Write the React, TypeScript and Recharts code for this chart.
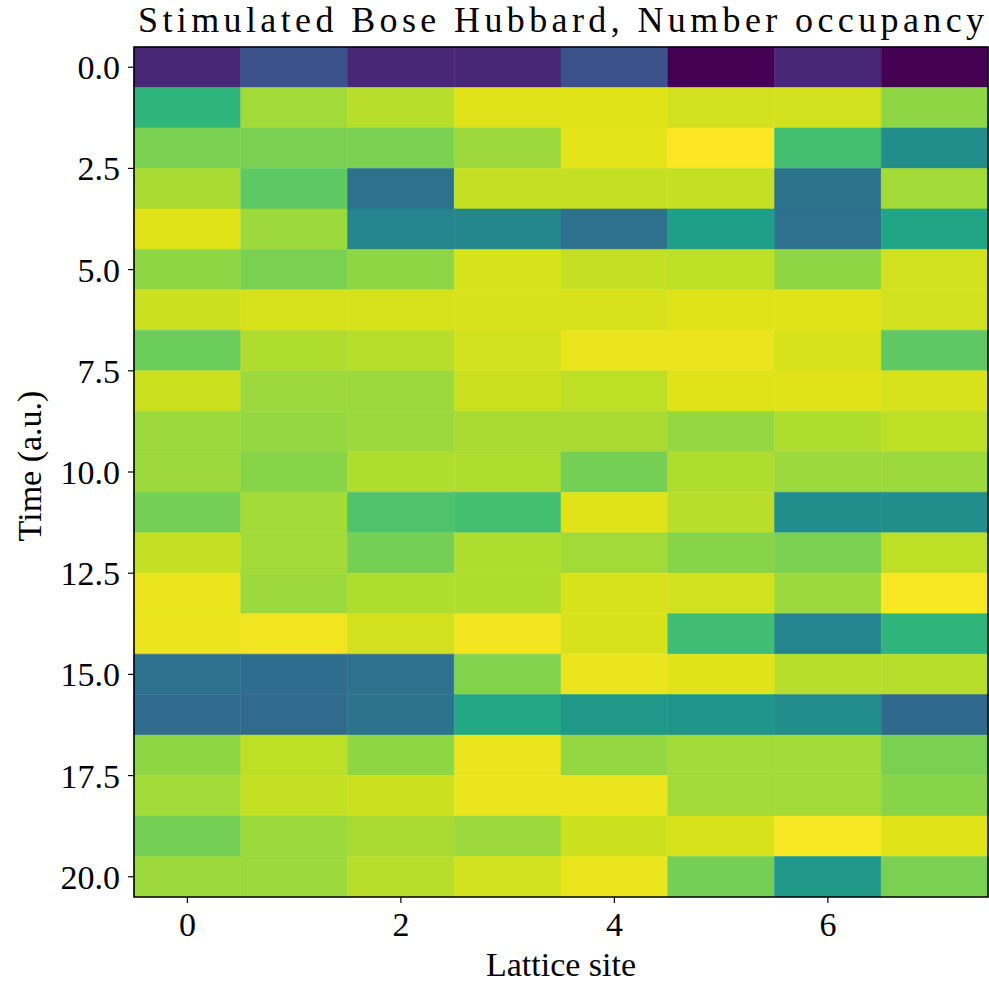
import React from 'react';
import { ScatterChart, Scatter, XAxis, YAxis, ReferenceArea } from 'recharts';

// Lattice sites (columns) and time steps (rows)
const sites = [0, 1, 2, 3, 4, 5, 6, 7];
const times = [0, 1, 2, 3, 4, 5, 6, 7, 8, 9, 10, 11, 12, 13, 14, 15, 16, 17, 18, 19, 20];
const siteTicks = [0, 2, 4, 6];
const timeTicks = [0, 2.5, 5, 7.5, 10, 12.5, 15, 17.5, 20];

// Normalised number occupancy, one row per time step, one entry per site
const occupancy = [
  [0.11, 0.25, 0.11, 0.11, 0.25, 0.0, 0.11, 0.0],
  [0.65, 0.86, 0.89, 0.95, 0.95, 0.93, 0.93, 0.83],
  [0.8, 0.8, 0.8, 0.85, 0.96, 1.0, 0.7, 0.49],
  [0.87, 0.75, 0.37, 0.91, 0.91, 0.91, 0.38, 0.86],
  [0.95, 0.85, 0.45, 0.46, 0.37, 0.56, 0.37, 0.59],
  [0.83, 0.8, 0.83, 0.94, 0.91, 0.9, 0.83, 0.93],
  [0.92, 0.94, 0.94, 0.94, 0.94, 0.95, 0.95, 0.93],
  [0.77, 0.88, 0.89, 0.93, 0.97, 0.97, 0.94, 0.75],
  [0.92, 0.85, 0.85, 0.92, 0.9, 0.95, 0.95, 0.94],
  [0.85, 0.84, 0.85, 0.87, 0.87, 0.84, 0.88, 0.9],
  [0.85, 0.82, 0.88, 0.88, 0.79, 0.88, 0.85, 0.85],
  [0.79, 0.86, 0.72, 0.7, 0.95, 0.89, 0.49, 0.49],
  [0.91, 0.86, 0.79, 0.88, 0.86, 0.82, 0.8, 0.9],
  [0.97, 0.85, 0.88, 0.88, 0.94, 0.93, 0.85, 0.99],
  [0.97, 0.98, 0.93, 0.98, 0.94, 0.69, 0.45, 0.65],
  [0.37, 0.355, 0.37, 0.81, 0.97, 0.95, 0.89, 0.89],
  [0.35, 0.345, 0.385, 0.6, 0.53, 0.52, 0.48, 0.34],
  [0.83, 0.9, 0.83, 0.97, 0.84, 0.86, 0.86, 0.8],
  [0.86, 0.91, 0.92, 0.97, 0.97, 0.86, 0.86, 0.82],
  [0.79, 0.85, 0.87, 0.85, 0.92, 0.94, 0.99, 0.95],
  [0.85, 0.85, 0.89, 0.93, 0.97, 0.79, 0.53, 0.8],
];

const TITLE = 'Stimulated Bose Hubbard, Number occupancy';
const X_LABEL = 'Lattice site';
const Y_LABEL = 'Time (a.u.)';

// Viridis colour map, sampled every 0.05
const VIRIDIS = [
  '#440154', '#471365', '#482475', '#463480', '#414487', '#3b528b', '#355f8d',
  '#2f6c8e', '#2a788e', '#25848e', '#21918c', '#1e9c89', '#22a884', '#2fb47c',
  '#44bf70', '#5ec962', '#7ad151', '#9bd93c', '#bddf26', '#dfe318', '#fde725',
];

function hexToRgb(h: string): number[] {
  return [1, 3, 5].map((i) => parseInt(h.slice(i, i + 2), 16));
}

function viridis(v: number): string {
  const t = Math.max(0, Math.min(1, v)) * (VIRIDIS.length - 1);
  const i = Math.min(Math.floor(t), VIRIDIS.length - 2);
  const f = t - i;
  const a = hexToRgb(VIRIDIS[i]);
  const b = hexToRgb(VIRIDIS[i + 1]);
  const c = a.map((x, k) => Math.round(x + (b[k] - x) * f));
  return `rgb(${c[0]},${c[1]},${c[2]})`;
}

const FONT = '"Liberation Serif", "Times New Roman", serif';

const cells = times.flatMap((t) =>
  sites.map((s) => ({ site: s, time: t, value: occupancy[t][s] }))
);

const tickStyle = { fill: '#000', fontFamily: FONT, fontSize: 34 };

export default function App() {
  return (
    <div style={{ position: 'absolute', left: 0, top: 0, background: '#fff' }}>
      <ScatterChart
        width={989}
        height={985}
        margin={{ top: 47, right: 1, bottom: 0, left: 0 }}
      >
        <XAxis
          type="number"
          dataKey="site"
          domain={[-0.5, 7.5]}
          ticks={siteTicks}
          allowDataOverflow
          height={88}
          axisLine={false}
          tickLine={{ stroke: '#000', strokeWidth: 1.2 }}
          tickSize={6}
          tickMargin={9}
          tick={tickStyle}
          label={(p: any) => {
            const vb = p.viewBox;
            return (
              <text
                x={vb.x + vb.width / 2}
                y={976}
                textAnchor="middle"
                fontFamily={FONT}
                fontSize={34}
                fill="#000"
              >
                {X_LABEL}
              </text>
            );
          }}
        />
        <YAxis
          type="number"
          dataKey="time"
          domain={[-0.5, 20.5]}
          reversed
          ticks={timeTicks}
          allowDataOverflow
          width={134}
          axisLine={false}
          tickLine={{ stroke: '#000', strokeWidth: 1.2 }}
          tickSize={6}
          tickMargin={8}
          tick={tickStyle}
          tickFormatter={(v: number) => v.toFixed(1)}
          label={(p: any) => {
            const vb = p.viewBox;
            const cx = 41;
            const cy = vb.y + vb.height / 2 - 6;
            return (
              <text
                x={cx}
                y={cy}
                transform={`rotate(-90, ${cx}, ${cy})`}
                textAnchor="middle"
                fontFamily={FONT}
                fontSize={34}
                fill="#000"
              >
                {Y_LABEL}
              </text>
            );
          }}
        />
        {cells.map((c) => (
          <ReferenceArea
            key={`${c.site}-${c.time}`}
            x1={c.site - 0.5}
            x2={c.site + 0.5}
            y1={c.time - 0.5}
            y2={c.time + 0.5}
            fill={viridis(c.value)}
            fillOpacity={1}
            stroke={viridis(c.value)}
            strokeWidth={0.5}
            ifOverflow="visible"
          />
        ))}
        <ReferenceArea
          x1={-0.5}
          x2={7.5}
          y1={-0.5}
          y2={20.5}
          fill="none"
          fillOpacity={0}
          stroke="#000"
          strokeWidth={1.6}
          ifOverflow="visible"
          label={(p: any) => {
            const vb = p.viewBox;
            return (
              <text
                x={vb.x + vb.width / 2}
                y={vb.y - 15}
                textAnchor="middle"
                fontFamily={FONT}
                fontSize={36}
                fill="#000"
                textLength={846}
                lengthAdjust="spacing"
              >
                {TITLE}
              </text>
            );
          }}
        />
        <Scatter data={cells} isAnimationActive={false} shape={() => <g />} />
      </ScatterChart>
    </div>
  );
}
